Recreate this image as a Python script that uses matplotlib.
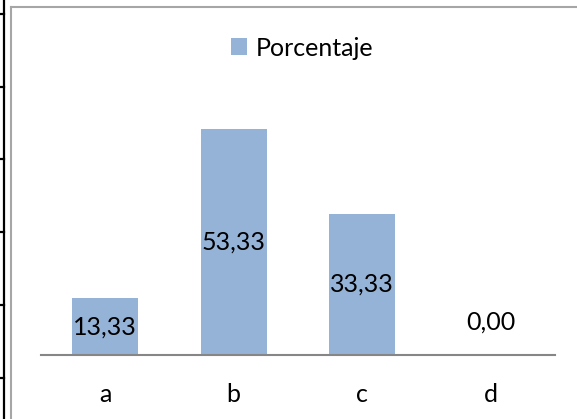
import matplotlib
matplotlib.use("Agg")
import matplotlib.pyplot as plt
from matplotlib.lines import Line2D
from matplotlib.patches import Rectangle, Patch

categories = ["a", "b", "c", "d"]
values = [13.33, 53.33, 33.33, 0.00]
series_name = "Porcentaje"

W, H = 577, 419
fig = plt.figure(figsize=(W / 100, H / 100), dpi=100)
plt.rcParams['font.family'] = ['Lato', 'DejaVu Sans']

def fx(px):
    return px / W

def fy(py):
    return 1 - py / H

# page decoration: black vertical line with ticks on far left
fig.add_artist(Line2D([fx(4), fx(4)], [0, 1], color="black", lw=1.6, transform=fig.transFigure))
for yy in [14, 87, 159, 232, 305, 378]:
    fig.add_artist(Line2D([0, fx(4)], [fy(yy), fy(yy)], color="black", lw=1.6, transform=fig.transFigure))

# chart border (gray)
fig.add_artist(Line2D([fx(11.5), fx(11.5)], [0, fy(7)], color="#a6a6a6", lw=1.5, transform=fig.transFigure))
fig.add_artist(Line2D([fx(11.5), 1], [fy(7), fy(7)], color="#a6a6a6", lw=1.5, transform=fig.transFigure))

ax_left, ax_right = 41, 555
ax_bottom = 355
ymax = 60
px_per_unit = 4.24
ax_top = ax_bottom - ymax * px_per_unit
ax = fig.add_axes([fx(ax_left), fy(ax_bottom), (ax_right - ax_left) / W, (ax_bottom - ax_top) / H])

color = "#95B3D7"
x = list(range(len(categories)))
ax.bar(x, values, width=0.51, color=color, zorder=2)
ax.set_xlim(-0.5, len(categories) - 0.5)
ax.set_ylim(0, ymax)

for xi, v in zip(x, values):
    ypos = v / 2 if v > 0 else 7.8
    ax.text(xi, ypos, f"{v:.2f}".replace(".", ","), ha="center", va="center",
            fontsize=18, color="black", zorder=3)

for s in ["left", "right", "top"]:
    ax.spines[s].set_visible(False)
ax.spines["bottom"].set_color("#868686")
ax.spines["bottom"].set_linewidth(1.5)
ax.set_yticks([])
ax.set_xticks(x)
ax.set_xticklabels(categories, fontsize=18)
ax.tick_params(axis="x", length=0, pad=20)
ax.patch.set_visible(False)

handle = Patch(facecolor=color, edgecolor="none")
fig.legend([handle], [series_name], loc="center", bbox_to_anchor=(fx(302), fy(48)),
           frameon=False, fontsize=18, handlelength=0.65, handleheight=0.65,
           handletextpad=0.35)

fig.savefig("out.png", dpi=100)
